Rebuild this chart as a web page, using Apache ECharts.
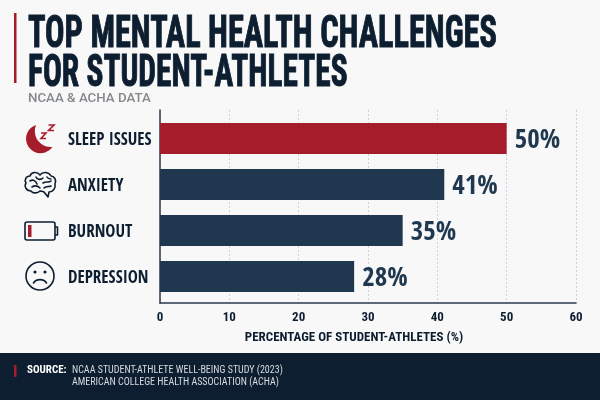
<!DOCTYPE html>
<html>
<head>
<meta charset="utf-8">
<style>html,body{margin:0;padding:0;background:#f8f8f8}#chart{width:600px;height:400px}</style>
<script src="https://cdn.jsdelivr.net/npm/echarts@6/dist/echarts.min.js"></script>
</head>
<body>
<div id="chart"></div>
<script>
// Survey results: share of student-athletes reporting each challenge
const categories = ['SLEEP ISSUES', 'ANXIETY', 'BURNOUT', 'DEPRESSION'];
const percentages = [50, 41, 35, 28];
const highlightIndex = 0;
const xTicks = [0, 10, 20, 30, 40, 50, 60];
const titleLines = ['TOP MENTAL HEALTH CHALLENGES', 'FOR STUDENT-ATHLETES'];
const subtitleText = 'NCAA & ACHA DATA';
const axisTitle = 'PERCENTAGE OF STUDENT-ATHLETES (%)';
const sourceLines = ['NCAA STUDENT-ATHLETE WELL-BEING STUDY (2023)', 'AMERICAN COLLEGE HEALTH ASSOCIATION (ACHA)'];

const NAVY = '#0d1e30', BAR = '#1f3850', RED = '#a51c2a', AXIS = '#2a3a4c';
const COND = '"Roboto Condensed"', TIGHT = '"Open Sans Condensed"';

// Vector icon outlines shown beside each category label
const iconPaths = {
  iconMoon: 'M36 125 A14.5 14.5 0 1 0 52.5 147 A16 16 0 0 1 36 125 Z',
  iconSnore: 'M41 133 H46 L41 138.5 H46 M48.5 125 H54 L48.5 130.5 H54',
  iconBrain: 'M40 175 C37 171 31 172 30 176 C26 176 24 180 26 183 C24 186 26 191 31 191 C33 194 38 193 40 191 C42 191 44 192 44 192 L48 197 L49 192 C53 192 56 188 55 184 C57 180 54 176 51 176 C49 172 43 171 40 175 Z M30 181 C33 179 36 181 37 184 M36 177 C37 180 41 180 43 178 M32 187 C35 185 38 186 40 188 M43 183 C46 181 49 183 51 181 M44 188 C46 186 49 187 51 186 M47 177 C48 179 50 179 51 179',
  iconBattery: 'M27 222 H53 A2 2 0 0 1 55 224 V238 A2 2 0 0 1 53 240 H27 A2 2 0 0 1 25 238 V224 A2 2 0 0 1 27 222 Z M55 227 H57.5 V235 H55',
  iconFace: 'M54 276 A14 14 0 1 1 26 276 A14 14 0 1 1 54 276 Z M33.5 283 C36 278.5 44 278.5 46.5 283'
};
Object.keys(iconPaths).forEach(name => {
  echarts.graphic.registerShape(name, echarts.graphic.extendPath(iconPaths[name], {}));
});
const outline = color => ({ stroke: color, fill: 'none', lineWidth: 1.6, lineJoin: 'round', lineCap: 'round' });
const titleStyle = text => ({ text, fill: NAVY, stroke: NAVY, lineWidth: 1, font: 'bold 44px ' + COND });

const chart = echarts.init(document.getElementById('chart'));
chart.setOption({
  animation: false,
  backgroundColor: '#f8f8f8',
  grid: [
    { left: 160, top: 110, width: 416, height: 193 },
    { left: 160, top: 115.5, width: 416, height: 184 }
  ],
  xAxis: [
    { type: 'value', gridIndex: 0, min: xTicks[0], max: xTicks[xTicks.length - 1], interval: xTicks[1] - xTicks[0],
      axisLine: { show: true, lineStyle: { color: AXIS, width: 1.5 } }, axisTick: { show: false },
      axisLabel: { color: NAVY, fontFamily: COND, fontWeight: 'bold', fontSize: 13, margin: 8 },
      splitLine: { show: true, lineStyle: { color: '#cfd2d6', type: [2, 2], width: 1 } },
      name: axisTitle, nameLocation: 'middle', nameGap: 28,
      nameTextStyle: { color: NAVY, fontFamily: COND, fontWeight: 'bold', fontSize: 13, padding: [0, 28, 0, 0] } },
    { type: 'value', gridIndex: 1, min: xTicks[0], max: xTicks[xTicks.length - 1], show: false }
  ],
  yAxis: [
    { type: 'value', gridIndex: 0, min: 0, max: 1,
      axisLine: { show: true, lineStyle: { color: AXIS, width: 1.5 } }, axisTick: { show: false },
      axisLabel: { show: false }, splitLine: { show: false } },
    { type: 'category', gridIndex: 1, inverse: true, data: categories,
      axisLine: { show: false }, axisTick: { show: false },
      axisLabel: { color: NAVY, fontFamily: TIGHT, fontWeight: 'bold', fontSize: 17, align: 'left', margin: 92,
        verticalAlign: 'top', lineHeight: 4 } }
  ],
  series: [{
    type: 'bar', xAxisIndex: 1, yAxisIndex: 1, barWidth: 31, silent: true,
    data: percentages.map((v, i) => ({ value: v, itemStyle: { color: i === highlightIndex ? RED : BAR } })),
    label: { show: true, position: 'right', distance: 8, offset: [0, 2], formatter: '{c}%',
      fontFamily: TIGHT, fontWeight: 'bold', fontSize: 27,
      color: p => (p.dataIndex === highlightIndex ? RED : BAR) }
  }],
  graphic: [
    { type: 'rect', shape: { x: 14, y: 13, width: 2.5, height: 70 }, style: { fill: RED } },
    { type: 'text', x: 28, y: 14, scaleX: 0.735, style: titleStyle(titleLines[0]) },
    { type: 'text', x: 28, y: 53, scaleX: 0.713, style: titleStyle(titleLines[1]) },
    { type: 'text', x: 28, y: 92,
      style: { text: subtitleText, fill: '#85888c', font: '500 13.3px Roboto' } },
    { type: 'iconMoon', style: { fill: RED } },
    { type: 'iconSnore', style: { ...outline(RED), lineCap: 'butt', lineJoin: 'miter' } },
    { type: 'iconBrain', style: outline(NAVY) },
    { type: 'iconBattery', style: outline(NAVY) },
    { type: 'rect', shape: { x: 28, y: 225, width: 3.5, height: 12 }, style: { fill: RED } },
    { type: 'iconFace', style: outline(NAVY) },
    { type: 'circle', shape: { cx: 35, cy: 272, r: 1.6 }, style: { fill: NAVY } },
    { type: 'circle', shape: { cx: 45, cy: 272, r: 1.6 }, style: { fill: NAVY } },
    { type: 'rect', shape: { x: 0, y: 353, width: 600, height: 47 }, style: { fill: NAVY } },
    { type: 'rect', shape: { x: 14, y: 365, width: 2.5, height: 12 }, style: { fill: RED } },
    { type: 'text', x: 27, y: 370.5,
      style: { text: 'SOURCE:', fill: '#fff', font: 'bold 11px ' + COND, verticalAlign: 'middle' } },
    { type: 'text', x: 72, y: 370.5,
      style: { text: sourceLines[0], fill: '#d5d9de', font: '10px ' + COND, verticalAlign: 'middle' } },
    { type: 'text', x: 72, y: 382.5,
      style: { text: sourceLines[1], fill: '#d5d9de', font: '10px ' + COND, verticalAlign: 'middle' } }
  ]
});
</script>
</body>
</html>
